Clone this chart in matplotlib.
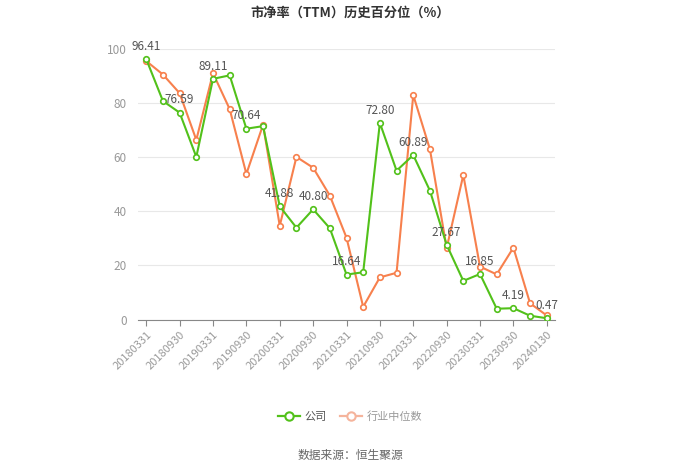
import matplotlib
matplotlib.use("Agg")
import matplotlib.pyplot as plt
from matplotlib.lines import Line2D

plt.rcParams['font.family'] = ['Noto Sans CJK SC', 'DejaVu Sans']

# data
dates = ['20180331', '20180630', '20180930', '20181231', '20190331', '20190630',
         '20190930', '20191231', '20200331', '20200630', '20200930', '20201231',
         '20210331', '20210630', '20210930', '20211231', '20220331', '20220630',
         '20220930', '20221231', '20230331', '20230630', '20230930', '20231231',
         '20240130']
company = [96.41, 80.9, 76.59, 60.2, 89.11, 90.4, 70.64, 71.6, 41.88, 34.0,
           40.80, 33.8, 16.64, 17.5, 72.80, 55.1, 60.89, 47.7, 27.67, 14.3,
           16.85, 4.0, 4.19, 1.4, 0.47]
industry = [95.7, 90.7, 83.8, 66.5, 91.2, 77.9, 53.9, 72.1, 34.7, 60.2,
            56.2, 45.9, 30.3, 4.7, 15.6, 17.3, 83.1, 63.0, 26.4, 53.5,
            19.6, 16.7, 26.6, 6.0, 1.5]
yticks = [0, 20, 40, 60, 80, 100]

green = '#52c11a'
orange = '#f7804d'

fig = plt.figure(figsize=(7, 4.73), dpi=100)
ax = fig.add_axes([0.197, 0.3245, 0.596, 0.571])

x = list(range(len(dates)))
ax.plot(x, company, color=green, lw=1.5, marker='o', ms=4,
        mfc='white', mec=green, mew=1.2, zorder=3)
ax.plot(x, industry, color=orange, lw=1.5, marker='o', ms=4,
        mfc='white', mec=orange, mew=1.2, zorder=2)

# value labels on every other company point
for i in range(0, len(dates), 2):
    ax.annotate(f'{company[i]:.2f}', (i, company[i]), xytext=(0, 4.5),
                textcoords='offset points', ha='center', va='bottom',
                fontsize=8.5, color='#555555', zorder=4)

ax.set_xlim(-0.5, len(dates) - 0.5)
ax.set_ylim(0, 100)
ax.set_yticks(yticks)
ax.set_yticklabels([str(v) for v in yticks], fontsize=8.5, color='#999999')
ax.grid(axis='y', color='#e8e8e8', lw=0.8)
ax.set_axisbelow(True)

tick_idx = list(range(0, len(dates), 2))
ax.set_xticks(tick_idx)
ax.set_xticklabels([dates[i] for i in tick_idx], rotation=45, ha='right',
                   rotation_mode='anchor', fontsize=8, color='#999999')
ax.tick_params(axis='x', length=4, color='#888888', pad=3)
ax.tick_params(axis='y', length=0, pad=8)

for s in ['top', 'right', 'left']:
    ax.spines[s].set_visible(False)
ax.spines['bottom'].set_color('#888888')

fig.text(0.5, 0.974, '市净率（TTM）历史百分位（%）', ha='center', va='center',
         fontsize=9.5, fontweight='bold', color='#333333')

handles = [Line2D([], [], color=green, lw=1.6, marker='o', ms=6, mfc='white', mec=green, mew=1.5),
           Line2D([], [], color='#f5b49c', lw=1.6, marker='o', ms=6, mfc='white', mec='#f5b49c', mew=1.5)]
leg = fig.legend(handles, ['公司', '行业中位数'], loc='center', bbox_to_anchor=(0.5, 0.12),
                 ncol=2, frameon=False, fontsize=8, handlelength=2.0,
                 columnspacing=1.2, handletextpad=0.4)
leg.get_texts()[0].set_color('#555555')
leg.get_texts()[1].set_color('#999999')

fig.text(0.5, 0.036, '数据来源：恒生聚源', ha='center', va='center',
         fontsize=8.5, color='#666666')

fig.savefig('out.png', dpi=100)
